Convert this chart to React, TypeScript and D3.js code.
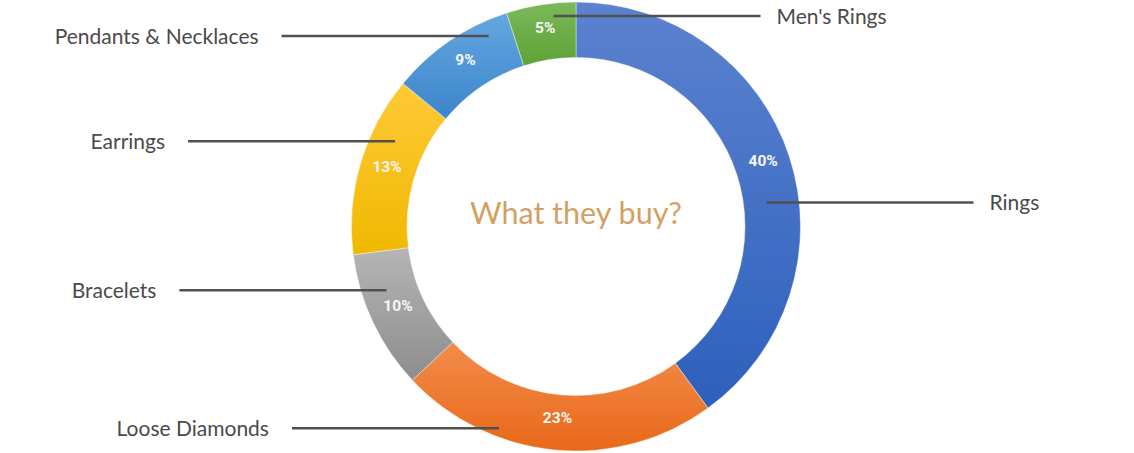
import * as d3 from "d3";

const categories = ["Rings", "Loose Diamonds", "Bracelets", "Earrings", "Pendants & Necklaces", "Men's Rings"];
const shares = [40, 23, 10, 13, 9, 5];
const topColors = ["#5c82cf", "#f38c4c", "#b5b5b5", "#ffc93a", "#64a7e1", "#7bb85b"];
const bottomColors = ["#2d60bc", "#e86818", "#8d8d8d", "#efb900", "#3c85ca", "#5ea235"];
const title = "What they buy?";

// leader line layout: y of the line, radius where it touches the ring, side of the label
const leaderLayout = [
  { y: 202.5, r: 192, side: 1 },
  { y: 428.3, r: 216, side: -1 },
  { y: 290.3, r: 200, side: -1 },
  { y: 141.3, r: 200, side: -1 },
  { y: 36, r: 209.6, side: -1 },
  { y: 16, r: 211.7, side: 1 },
];

const W = 1134;
const H = 453;
const cx = 576;
const cy = 226.5;
const outerR = 224.5;
const innerR = 169;
const lineLen = 207;

interface Slice {
  name: string;
  value: number;
}

export default function App() {
  const data: Slice[] = categories.map((name, i) => ({ name, value: shares[i] }));
  const pie = d3.pie<Slice>().value((d) => d.value).sort(null);
  const arcs = pie(data);
  const arc = d3.arc<d3.PieArcDatum<Slice>>().innerRadius(innerR).outerRadius(outerR);

  return (
    <div style={{ position: "fixed", left: 0, top: 0 }}>
      <svg width={W} height={H} viewBox={`0 0 ${W} ${H}`} style={{ display: "block" }}>
        <defs>
          {arcs.map((a) => (
            <linearGradient key={a.data.name} id={`grad-${a.index}`} x1="0" y1="0" x2="0" y2="1">
              <stop offset="0%" stopColor={topColors[a.index]} />
              <stop offset="100%" stopColor={bottomColors[a.index]} />
            </linearGradient>
          ))}
        </defs>
        <rect width={W} height={H} fill="#fff" />
        <g transform={`translate(${cx},${cy})`}>
          {arcs.map((a) => (
            <path
              key={a.data.name}
              d={arc(a) ?? ""}
              fill={`url(#grad-${a.index})`}
              stroke="#ffffff"
              strokeOpacity={0.5}
              strokeWidth={0.8}
            />
          ))}
          {arcs.map((a) => {
            const [x, y] = arc.centroid(a);
            return (
              <text
                key={a.data.name}
                x={x}
                y={y}
                dy="0.05em"
                textAnchor="middle"
                fill="#f7f7f7"
                fontFamily="Roboto, sans-serif"
                fontWeight={700}
                fontSize={15.5}
              >
                {`${a.data.value}%`}
              </text>
            );
          })}
        </g>
        {arcs.map((a) => {
          const { y, r, side } = leaderLayout[a.index];
          const right = side > 0;
          const dy = y - cy;
          const dx = Math.sqrt(Math.max(0, r * r - dy * dy));
          const mid = (a.startAngle + a.endAngle) / 2;
          const ax = Math.sin(mid) > 0 ? cx + dx : cx - dx;
          const ex = ax + side * lineLen;
          return (
            <g key={a.data.name}>
              <line x1={ax} y1={y} x2={ex} y2={y} stroke="#505050" strokeWidth={2.6} />
              <text
                x={right ? ex + 16 : ex - 23}
                y={y}
                dy="0.36em"
                textAnchor={right ? "start" : "end"}
                fill="#4a4a4a"
                fontFamily="Lato, sans-serif"
                fontSize={21}
              >
                {a.data.name}
              </text>
            </g>
          );
        })}
        <text
          x={cx}
          y={224}
          textAnchor="middle"
          fill="#d49f64"
          fontFamily="Lato, sans-serif"
          fontSize={30.5}
        >
          {title}
        </text>
      </svg>
    </div>
  );
}
